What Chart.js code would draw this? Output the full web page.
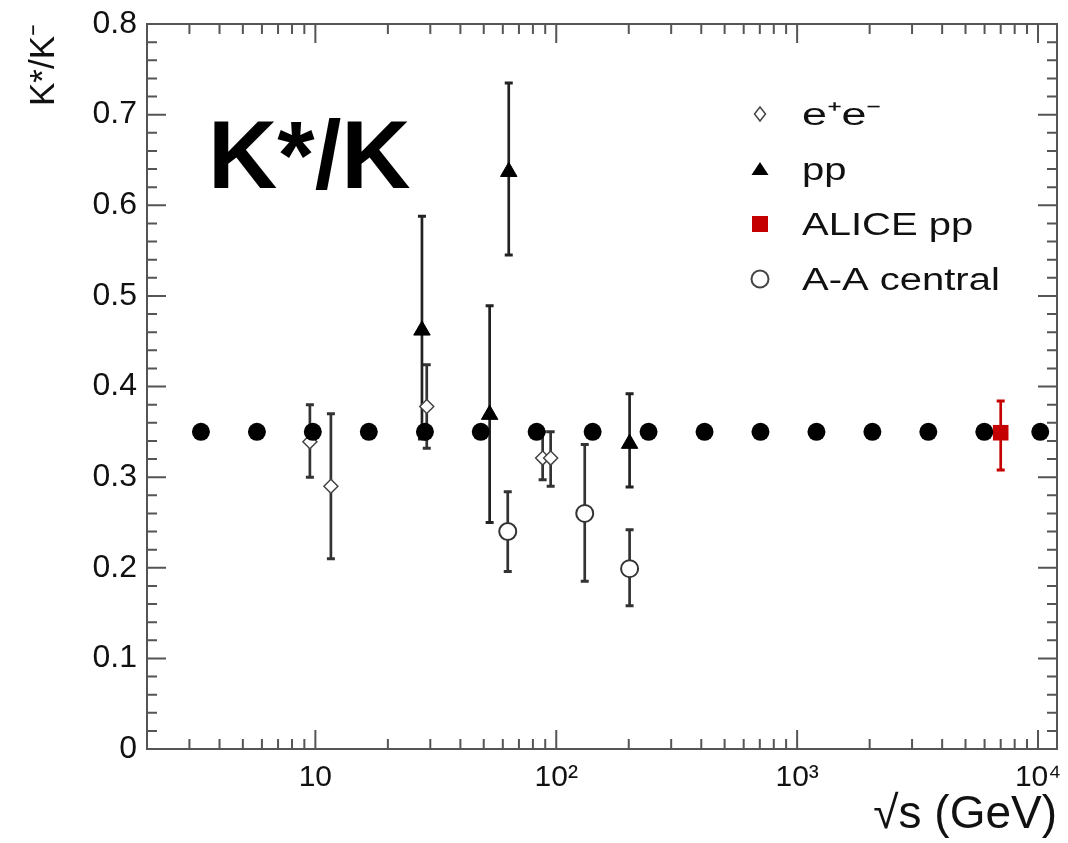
<!DOCTYPE html>
<html><head><meta charset="utf-8">
<script src="https://cdn.jsdelivr.net/npm/chart.js@4/dist/chart.umd.min.js"></script>
<style>html,body{margin:0;padding:0;background:#fff;}canvas{display:block;}</style>
</head><body>
<canvas id="c" width="1068" height="843"></canvas>
<script>
// ---- data ----
const eeX   = [9.49, 11.6, 29.0, 87.8, 94.8];
const eeY   = [0.339, 0.290, 0.378, 0.321, 0.321];
const eeLo  = [0.300, 0.210, 0.332, 0.297, 0.290];
const eeHi  = [0.380, 0.370, 0.424, 0.350, 0.350];

const ppX   = [27.7, 52.9, 63.5, 201.6];
const ppY   = [0.462, 0.369, 0.637, 0.337];
const ppLo  = [0.342, 0.250, 0.545, 0.289];
const ppHi  = [0.588, 0.489, 0.735, 0.392];

const aliceX  = [7000];
const aliceY  = [0.349];
const aliceLo = [0.308];
const aliceHi = [0.384];

const aaX   = [62.9, 131.3, 201.6];
const aaY   = [0.240, 0.260, 0.199];
const aaLo  = [0.196, 0.185, 0.158];
const aaHi  = [0.284, 0.336, 0.242];

const refX  = [3.35, 5.72, 9.76, 16.67, 28.5, 48.6, 82.9, 141.6, 241.7, 412.7, 704.4, 1203, 2053, 3505, 5984, 10216];
const refY  = [0.35, 0.35, 0.35, 0.35, 0.35, 0.35, 0.35, 0.35, 0.35, 0.35, 0.35, 0.35, 0.35, 0.35, 0.35, 0.35];

const xTickValues = [10, 100, 1000, 10000];
const xTickLabels = ['10', '10²', '10³', '10⁴'];
const yTickValues = [0, 0.1, 0.2, 0.3, 0.4, 0.5, 0.6, 0.7, 0.8];
const yTickLabels = ['0', '0.1', '0.2', '0.3', '0.4', '0.5', '0.6', '0.7', '0.8'];

const legendLabels = ['e⁺e⁻', 'pp', 'ALICE pp', 'A-A central'];
const overlayText = 'K*/K';
const yTitle = 'K*/K⁻';
const xTitle = '√s (GeV)';

const FONT = '"Liberation Sans", Arial, Helvetica, sans-serif';

function pts(xs, ys) { return xs.map((x, i) => ({x: x, y: ys[i]})); }

// ---- plugins ----
const frameTicks = {
  id: 'frameTicks',
  beforeDatasetsDraw(chart) {
    const {ctx, chartArea: a, scales: {x, y}} = chart;
    ctx.save();
    ctx.strokeStyle = '#555';
    ctx.lineWidth = 2;
    ctx.strokeRect(a.left, a.top, a.right - a.left, a.bottom - a.top);
    ctx.beginPath();
    for (let e = 0; e <= 4; e++) {
      for (let m = 1; m <= 9; m++) {
        const v = m * Math.pow(10, e);
        if (v <= x.min * 1.001 || v >= x.max * 0.999) continue;
        const px = x.getPixelForValue(v);
        const len = m === 1 ? 19 : 10;
        ctx.moveTo(px, a.bottom); ctx.lineTo(px, a.bottom - len);
        ctx.moveTo(px, a.top); ctx.lineTo(px, a.top + len);
      }
    }
    for (let i = 1; i < 40; i++) {
      const v = i * 0.02;
      const py = y.getPixelForValue(v);
      const len = (i % 5 === 0) ? 19 : 10;
      ctx.moveTo(a.left, py); ctx.lineTo(a.left + len, py);
      ctx.moveTo(a.right, py); ctx.lineTo(a.right - len, py);
    }
    ctx.stroke();
    ctx.restore();
  }
};

const errorBars = {
  id: 'errorBars',
  beforeDatasetsDraw(chart) {
    const {ctx, scales: {y}} = chart;
    chart.data.datasets.forEach((ds, i) => {
      if (!ds.errLow) return;
      const meta = chart.getDatasetMeta(i);
      ctx.save();
      ctx.strokeStyle = ds.errColor;
      meta.data.forEach((el, j) => {
        const px = el.x;
        const yl = y.getPixelForValue(ds.errLow[j]);
        const yh = y.getPixelForValue(ds.errHigh[j]);
        ctx.lineWidth = 2.7;
        ctx.beginPath();
        ctx.moveTo(px, yl); ctx.lineTo(px, yh);
        ctx.stroke();
        ctx.lineWidth = 3;
        ctx.beginPath();
        ctx.moveTo(px - 4, yl); ctx.lineTo(px + 4, yl);
        ctx.moveTo(px - 4, yh); ctx.lineTo(px + 4, yh);
        ctx.stroke();
      });
      ctx.restore();
    });
  }
};

const overlay = {
  id: 'overlay',
  afterDraw(chart) {
    const ctx = chart.ctx;
    ctx.save();
    ctx.fillStyle = '#000';
    ctx.font = 'bold 96px ' + FONT;
    ctx.textBaseline = 'alphabetic';
    ctx.textAlign = 'left';
    ctx.fillText(overlayText, 208, 188);
    const mx = 760, tx = 802, rows = [114, 169, 224, 279];
    ctx.beginPath();
    ctx.moveTo(mx, rows[0] - 7); ctx.lineTo(mx + 5.5, rows[0]); ctx.lineTo(mx, rows[0] + 7); ctx.lineTo(mx - 5.5, rows[0]); ctx.closePath();
    ctx.fillStyle = '#fff'; ctx.fill();
    ctx.strokeStyle = '#444'; ctx.lineWidth = 1.5; ctx.stroke();
    ctx.beginPath();
    ctx.moveTo(mx - 8.5, rows[1] + 6); ctx.lineTo(mx + 8.5, rows[1] + 6); ctx.lineTo(mx, rows[1] - 7); ctx.closePath();
    ctx.fillStyle = '#000'; ctx.fill();
    ctx.fillStyle = '#c40000';
    ctx.fillRect(mx - 8, rows[2] - 8, 16, 16);
    ctx.beginPath();
    ctx.arc(mx, rows[3], 8.5, 0, Math.PI * 2);
    ctx.fillStyle = '#fff'; ctx.fill();
    ctx.strokeStyle = '#444'; ctx.lineWidth = 2; ctx.stroke();
    ctx.fillStyle = '#111';
    ctx.font = '31px ' + FONT;
    legendLabels.forEach((t, i) => {
      ctx.save();
      ctx.translate(tx, rows[i] + 11);
      ctx.scale(i === 0 ? 1.45 : 1.29, 1);
      ctx.fillText(t, 0, 0);
      ctx.restore();
    });
    ctx.restore();
  }
};

new Chart(document.getElementById('c'), {
  type: 'scatter',
  data: {
    datasets: [
      { label: 'ref', data: pts(refX, refY), pointStyle: 'circle', pointRadius: 9, pointBorderWidth: 0,
        backgroundColor: '#000', borderColor: '#000', order: 0 },
      { label: legendLabels[0], data: pts(eeX, eeY), errLow: eeLo, errHigh: eeHi, errColor: '#333',
        pointStyle: 'rectRot', pointRadius: 7, pointBorderWidth: 1.5,
        backgroundColor: '#fff', borderColor: '#444', order: 4 },
      { label: legendLabels[1], data: pts(ppX, ppY), errLow: ppLo, errHigh: ppHi, errColor: '#222',
        pointStyle: 'triangle', pointRadius: 9.5, pointBorderWidth: 1,
        backgroundColor: '#000', borderColor: '#000', order: 3 },
      { label: legendLabels[2], data: pts(aliceX, aliceY), errLow: aliceLo, errHigh: aliceHi, errColor: '#c40000',
        pointStyle: 'rect', pointRadius: 11, pointBorderWidth: 0,
        backgroundColor: '#c40000', borderColor: '#c40000', order: 2 },
      { label: legendLabels[3], data: pts(aaX, aaY), errLow: aaLo, errHigh: aaHi, errColor: '#333',
        pointStyle: 'circle', pointRadius: 8.5, pointBorderWidth: 2,
        backgroundColor: '#fff', borderColor: '#333', order: 1 }
    ]
  },
  options: {
    responsive: false,
    animation: false,
    devicePixelRatio: 1,
    events: [],
    layout: { padding: { top: 24, right: 10, left: 0, bottom: 0 } },
    plugins: { legend: { display: false }, tooltip: { enabled: false } },
    scales: {
      x: {
        type: 'logarithmic', min: 2, max: 11990,
        grid: { display: false, drawTicks: false, tickLength: 0 },
        border: { display: false },
        afterBuildTicks: s => { s.ticks = xTickValues.map(v => ({ value: v })); },
        afterFit: s => { s.height = 94; s.paddingLeft = 0; s.paddingRight = 0; },
        ticks: { autoSkip: false, maxRotation: 0, padding: 11, color: '#111',
          font: { family: FONT, size: 30 },
          callback: (v, i) => xTickLabels[i] },
        title: { display: true, text: xTitle, align: 'end', color: '#111',
          font: { family: FONT, size: 46 }, padding: { top: 0, bottom: 0 } }
      },
      y: {
        type: 'linear', min: 0, max: 0.8,
        grid: { display: false, drawTicks: false, tickLength: 0 },
        border: { display: false },
        afterBuildTicks: s => { s.ticks = yTickValues.map(v => ({ value: v })); },
        afterFit: s => { s.width = 147; s.paddingTop = 0; s.paddingBottom = 0; },
        ticks: { padding: 10, color: '#111', font: { family: FONT, size: 32 },
          callback: (v, i) => yTickLabels[i] },
        title: { display: true, text: yTitle, align: 'end', color: '#111',
          font: { family: FONT, size: 35 }, padding: { top: 23, bottom: 0 } }
      }
    }
  },
  plugins: [frameTicks, errorBars, overlay]
});
</script>
</body></html>
